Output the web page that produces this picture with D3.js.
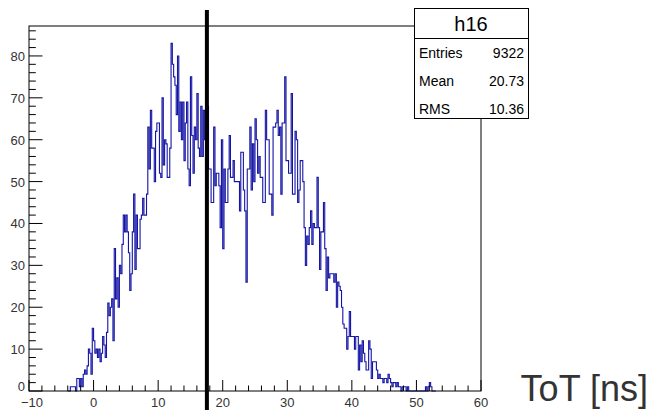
<!DOCTYPE html>
<html lang="en">
<head>
  <meta charset="UTF-8">
  <title>h16</title>
  <style>
    body {
      margin: 0;
      background: #fff;
      font-family: "Liberation Sans", Arial, sans-serif;
    }
    svg text {
      fill: #333;
    }
  </style>
</head>
<body>
  <svg id="chart" width="651" height="410"></svg>

  <script src="https://d3js.org/d3.v7.min.js"></script>
  <script>
    // histogram contents, 0.2 ns bins starting at -4 ns
    const binStart = -4.0;
    const binWidth = 0.2;
    const counts = [
      0, 0, 1, 1, 1,   1, 0, 3, 3, 1,   3, 1, 4, 5, 4,   6, 10, 9, 4, 15,
      12, 9, 10, 8, 10,   7, 9, 13, 11, 8,   14, 21, 18, 20, 22,   12, 34, 22, 27, 20,
      30, 28, 35, 42, 38,   42, 38, 33, 24, 28,   38, 47, 29, 42, 34,   34, 41, 42, 46, 42,
      42, 47, 63, 53, 67,   58, 58, 50, 62, 64,   64, 52, 51, 70, 54,   60, 59, 51, 51, 58,
      83, 78, 75, 73, 66,   80, 62, 69, 60, 69,   55, 64, 69, 53, 49,   75, 61, 52, 63, 60,
      71, 58, 56, 68, 56,   67, 60, 62, 68, 53,   53, 45, 45, 63, 49,   52, 52, 49, 39, 60,
      34, 53, 45, 45, 53,   61, 51, 51, 55, 50,   50, 50, 50, 43, 57,   57, 48, 43, 26, 53,
      53, 63, 48, 59, 50,   65, 60, 52, 56, 51,   51, 45, 45, 67, 60,   60, 47, 47, 42, 63,
      63, 64, 67, 61, 63,   47, 64, 64, 75, 55,   55, 52, 52, 71, 47,   47, 62, 60, 45, 48,
      55, 55, 50, 39, 30,   37, 35, 39, 43, 35,   40, 39, 39, 51, 39,   29, 38, 38, 45, 34,
      24, 32, 27, 28, 28,   28, 26, 28, 20, 26,   25, 24, 20, 16, 15,   15, 10, 13, 19, 13,
      13, 13, 10, 13, 13,   5, 11, 7, 12, 9,   7, 5, 5, 12, 10,   3, 7, 7, 7, 5,
      3, 4, 3, 3, 2,   3, 3, 2, 4, 3,   2, 1, 2, 2, 1,   2, 1, 1, 0, 1,
      1, 1, 0, 1, 0,   0, 0, 0, 0, 0,   0, 0, 0, 0, 0,   0, 0, 1, 0, 1,
      2, 1, 0, 0, 0
    ];

    const xDomain = [-10, 60];
    const yMax = 87.15;
    const xTicks = [-10, 0, 10, 20, 30, 40, 50, 60];
    const yTicks = [0, 10, 20, 30, 40, 50, 60, 70, 80];
    const cutValue = 17.55;

    const statsTitle = "h16";
    const statsLabels = ["Entries", "Mean", "RMS"];
    const statsValues = ["9322", "20.73", "10.36"];
    const axisTitle = "ToT [ns]";

    const svg = d3.select("#chart");
    const frame = { left: 29, right: 481, top: 26, bottom: 391 };

    const x = d3.scaleLinear().domain(xDomain).range([frame.left, frame.right]);
    const y = d3.scaleLinear().domain([0, yMax]).range([frame.bottom, frame.top]);

    // step outline of the histogram
    const pts = [[x(binStart), y(0)]];
    counts.forEach((c, i) => {
      const x0 = binStart + i * binWidth;
      pts.push([x(x0), y(c)]);
      pts.push([x(x0 + binWidth), y(c)]);
    });
    pts.push([x(binStart + counts.length * binWidth), y(0)]);

    svg.append("path")
      .attr("d", d3.line()(pts))
      .attr("fill", "none")
      .attr("stroke", "#1414a6")
      .attr("stroke-width", 1.1);

    // frame
    svg.append("rect")
      .attr("x", frame.left).attr("y", frame.top)
      .attr("width", frame.right - frame.left)
      .attr("height", frame.bottom - frame.top)
      .attr("fill", "none")
      .attr("stroke", "#000")
      .attr("stroke-width", 1);

    // x axis ticks (inside, pointing up)
    const xMinor = d3.range(xDomain[0], xDomain[1] + 0.001, 2);
    svg.append("g").selectAll("line")
      .data(xMinor)
      .enter().append("line")
      .attr("x1", d => x(d)).attr("x2", d => x(d))
      .attr("y1", frame.bottom)
      .attr("y2", d => frame.bottom - (xTicks.includes(d) ? 11 : 5.5))
      .attr("stroke", "#000");

    svg.append("g").selectAll("text")
      .data(xTicks)
      .enter().append("text")
      .attr("x", d => x(d) + (d === -10 ? 3 : 0))
      .attr("y", 407)
      .attr("text-anchor", "middle")
      .attr("font-size", 13)
      .text(d => d < 0 ? "\u2212" + Math.abs(d) : d);

    // y axis ticks (inside, pointing right)
    const yMinor = d3.range(0, 87, 2);
    svg.append("g").selectAll("line")
      .data(yMinor)
      .enter().append("line")
      .attr("y1", d => y(d)).attr("y2", d => y(d))
      .attr("x1", frame.left)
      .attr("x2", d => frame.left + (yTicks.includes(d) ? 13.5 : 6.8))
      .attr("stroke", "#000");

    svg.append("g").selectAll("text")
      .data(yTicks)
      .enter().append("text")
      .attr("x", 25)
      .attr("y", d => y(d) + (d === 0 ? 0 : 5))
      .attr("text-anchor", "end")
      .attr("font-size", 13)
      .text(d => d);

    // cut line
    svg.append("line")
      .attr("x1", x(cutValue)).attr("x2", x(cutValue))
      .attr("y1", 10).attr("y2", 410)
      .attr("stroke", "#000")
      .attr("stroke-width", 4);

    // stats box
    const box = { x: 414, y: 8, w: 114, h: 110, head: 30 };
    svg.append("rect")
      .attr("x", box.x + 0.5).attr("y", box.y + 0.5)
      .attr("width", box.w).attr("height", box.h)
      .attr("fill", "#fff").attr("stroke", "#000");
    svg.append("line")
      .attr("x1", box.x).attr("x2", box.x + box.w + 0.5)
      .attr("y1", box.y + box.head + 0.5).attr("y2", box.y + box.head + 0.5)
      .attr("stroke", "#000");
    svg.append("text")
      .attr("x", box.x + box.w / 2).attr("y", box.y + 23)
      .attr("text-anchor", "middle")
      .attr("font-size", 20)
      .style("fill", "#000")
      .text(statsTitle);

    statsLabels.forEach((lab, i) => {
      const ty = box.y + box.head + 20 + i * 28;
      svg.append("text")
        .attr("x", box.x + 5).attr("y", ty)
        .attr("font-size", 14)
        .style("fill", "#000")
        .text(lab);
      svg.append("text")
        .attr("x", box.x + box.w - 4).attr("y", ty)
        .attr("text-anchor", "end")
        .attr("font-size", 14)
        .style("fill", "#000")
        .text(statsValues[i]);
    });

    // axis title
    svg.append("text")
      .attr("x", 648).attr("y", 401)
      .attr("text-anchor", "end")
      .attr("font-size", 36)
      .text(axisTitle);
  </script>
</body>
</html>
